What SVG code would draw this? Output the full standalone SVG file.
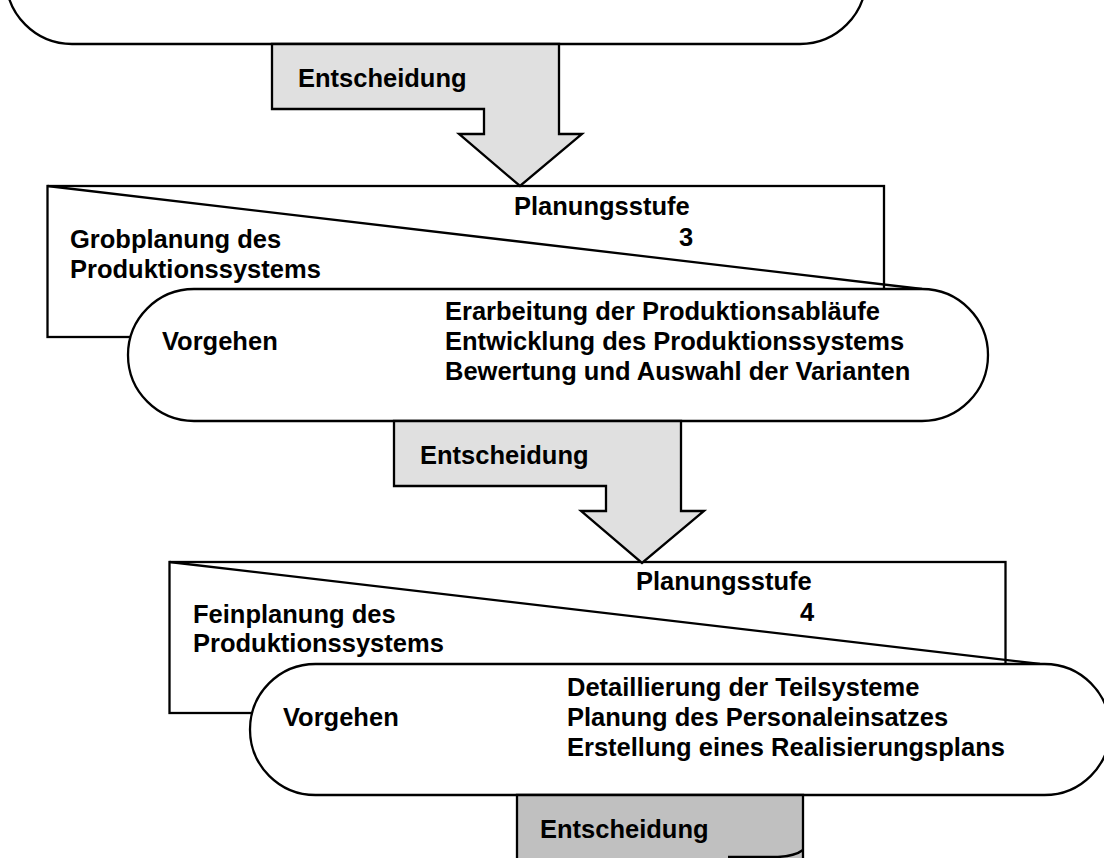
<svg xmlns="http://www.w3.org/2000/svg" width="1104" height="858" viewBox="0 0 1104 858">
  <style>
    .ln { fill: none; stroke: #000; stroke-width: 2.3; }
    .box { fill: #fff; stroke: #000; stroke-width: 2.3; }
    .stad { fill: #fff; stroke: #000; stroke-width: 2.3; }
    .arr { fill: #e0e0e0; stroke: #000; stroke-width: 2.3; stroke-linejoin: miter; }
    .arr3 { fill: #c0c0c0; stroke: #000; stroke-width: 2.3; }
    .t { font-family: "Liberation Sans", Arial, sans-serif; font-weight: bold; font-size: 25.5px; fill: #000; }
  </style>
  <rect width="1104" height="858" fill="#fff"/>

  <g id="stage-top">
    <rect class="stad" x="6" y="-88" width="860" height="132" rx="66" ry="66"/>
  </g>

  <g id="stage3-plan">
    <rect class="box" x="47.5" y="186" width="836.5" height="151"/>
    <line class="ln" x1="47.5" y1="186" x2="922" y2="289"/>
    <text class="t" x="514" y="215">Planungsstufe</text>
    <text class="t" x="679" y="246">3</text>
    <text class="t" x="70" y="248">Grobplanung des</text>
    <text class="t" x="70" y="278">Produktionssystems</text>
  </g>
  <g id="stage3-proc">
    <rect class="stad" x="128" y="289" width="860" height="132" rx="66" ry="66"/>
    <text class="t" x="162" y="350">Vorgehen</text>
    <text class="t" x="445" y="320">Erarbeitung der Produktionsabläufe</text>
    <text class="t" x="445" y="350">Entwicklung des Produktionssystems</text>
    <text class="t" x="445" y="380">Bewertung und Auswahl der Varianten</text>
  </g>

  <g id="stage4-plan">
    <rect class="box" x="169.5" y="562" width="836" height="151"/>
    <line class="ln" x1="169.5" y1="562" x2="1040" y2="664"/>
    <text class="t" x="636" y="590">Planungsstufe</text>
    <text class="t" x="800" y="621">4</text>
    <text class="t" x="193" y="623">Feinplanung des</text>
    <text class="t" x="193" y="652">Produktionssystems</text>
  </g>
  <g id="stage4-proc">
    <rect class="stad" x="250" y="664" width="860" height="131" rx="65.5" ry="65.5"/>
    <text class="t" x="283" y="726">Vorgehen</text>
    <text class="t" x="567" y="696">Detaillierung der Teilsysteme</text>
    <text class="t" x="567" y="726">Planung des Personaleinsatzes</text>
    <text class="t" x="567" y="756">Erstellung eines Realisierungsplans</text>
  </g>

  <g id="connectors">
    <g id="decision1">
      <polygon class="arr" points="272,44 559,44 559,134 582,134 520,186 459,134 484,134 484,109 272,109"/>
      <text class="t" x="298" y="87">Entscheidung</text>
    </g>
    <g id="decision2">
      <polygon class="arr" points="394,421 681,421 681,511 704,511 642,563 581,511 606,511 606,486 394,486"/>
      <text class="t" x="420" y="464">Entscheidung</text>
    </g>
    <g id="decision3">
      <polygon class="arr3" points="517,795 803,795 803,870 517,870"/>
      <text class="t" x="540" y="838">Entscheidung</text>
    </g>
  </g>

  <g id="next-stage">
    <path class="ln" d="M 728,857 L 778,857 Q 795,856 803,850"/>
  </g>
</svg>
